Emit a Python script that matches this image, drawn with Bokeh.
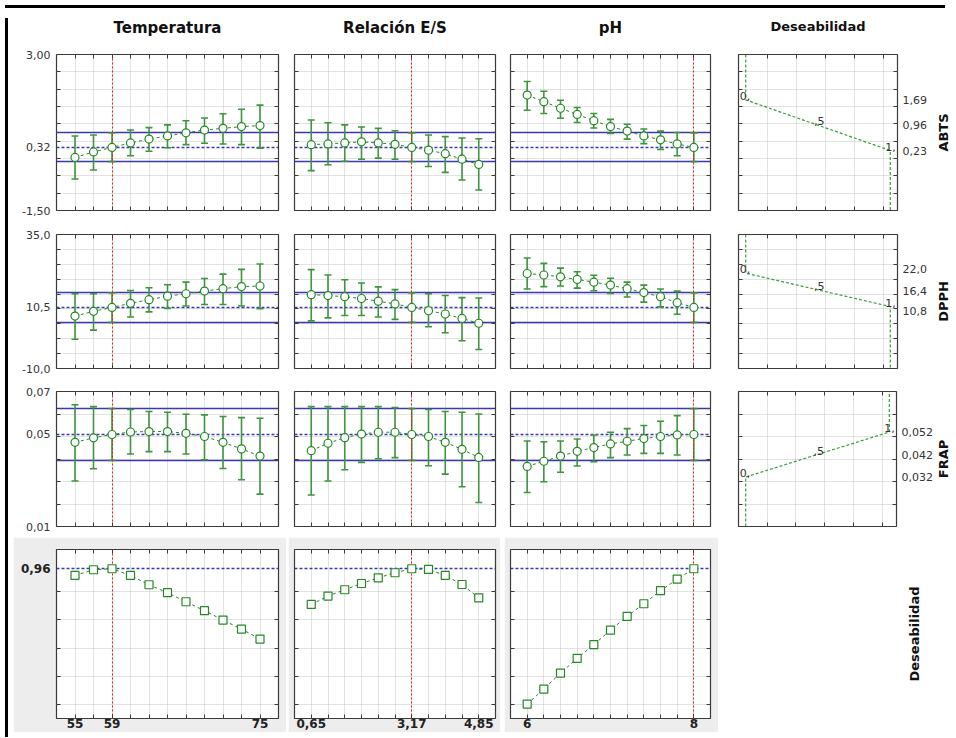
import math
from bokeh.plotting import figure
from bokeh.models import (Range1d, LinearAxis, FixedTicker, Grid, CustomJSTickFormatter,
                          Div, Spacer, ColumnDataSource)
from bokeh.layouts import row, column
from bokeh.core.properties import value
from bokeh.embed import file_html
from bokeh.resources import INLINE

# ---------------- data ----------------
temp = [55, 57, 59, 61, 63, 65, 67, 69, 71, 73, 75]
es = [0.65, 1.07, 1.49, 1.91, 2.33, 2.75, 3.17, 3.59, 4.01, 4.43, 4.85]
ph = [6.0, 6.2, 6.4, 6.6, 6.8, 7.0, 7.2, 7.4, 7.6, 7.8, 8.0]
current = [59, 3.17, 8.0]
factor_names = ["Temperatura", "Relación E/S", "pH"]

abts_temp = [0.03, 0.19, 0.32, 0.45, 0.56, 0.65, 0.74, 0.82, 0.87, 0.92, 0.95]
abts_temp_lo = [-0.59, -0.33, -0.09, 0.08, 0.21, 0.31, 0.40, 0.44, 0.42, 0.40, 0.30]
abts_temp_hi = [0.65, 0.68, 0.74, 0.82, 0.89, 0.97, 1.09, 1.17, 1.29, 1.42, 1.54]
abts_es = [0.40, 0.42, 0.45, 0.48, 0.45, 0.41, 0.32, 0.24, 0.14, -0.02, -0.17]
abts_es_lo = [-0.35, -0.18, -0.08, -0.02, 0.01, -0.02, -0.09, -0.23, -0.40, -0.62, -0.91]
abts_es_hi = [1.11, 1.03, 0.97, 0.91, 0.87, 0.80, 0.74, 0.68, 0.63, 0.59, 0.57]
abts_ph = [1.83, 1.64, 1.45, 1.27, 1.09, 0.92, 0.79, 0.65, 0.54, 0.42, 0.32]
abts_ph_lo = [1.39, 1.30, 1.16, 1.04, 0.88, 0.72, 0.56, 0.43, 0.26, 0.08, -0.09]
abts_ph_hi = [2.22, 1.94, 1.68, 1.47, 1.30, 1.13, 0.99, 0.85, 0.79, 0.75, 0.74]

dpph_temp = [7.6, 9.2, 10.5, 11.9, 13.1, 14.3, 15.1, 16.0, 16.8, 17.5, 17.7]
dpph_temp_lo = [-0.2, 2.9, 5.5, 7.3, 9.0, 10.2, 11.0, 11.5, 11.5, 11.0, 10.1]
dpph_temp_hi = [15.1, 15.1, 15.4, 16.2, 17.1, 18.1, 19.0, 20.2, 21.7, 23.3, 25.1]
dpph_es = [14.8, 14.5, 14.1, 13.5, 12.6, 11.7, 10.5, 9.4, 8.3, 6.8, 5.2]
dpph_es_lo = [6.0, 7.0, 7.8, 7.8, 7.3, 6.5, 5.5, 4.0, 2.0, -0.7, -3.6]
dpph_es_hi = [23.2, 21.4, 19.8, 18.7, 17.4, 16.5, 15.4, 15.1, 14.5, 13.8, 13.7]
dpph_ph = [21.9, 21.4, 20.8, 19.9, 19.0, 18.0, 16.8, 15.5, 14.1, 12.1, 10.5]
dpph_ph_lo = [16.7, 17.5, 17.7, 17.0, 16.1, 15.2, 14.0, 12.3, 10.7, 8.2, 5.5]
dpph_ph_hi = [27.1, 25.3, 23.7, 22.5, 21.3, 20.3, 19.0, 18.0, 16.7, 16.0, 15.4]

frap_temp = [0.0474, 0.0494, 0.0509, 0.0520, 0.0522, 0.0522, 0.0514, 0.0500, 0.0474, 0.0445, 0.0413]
frap_temp_lo = [0.0302, 0.0357, 0.0394, 0.0422, 0.0433, 0.0433, 0.0422, 0.0397, 0.0358, 0.0308, 0.0244]
frap_temp_hi = [0.0641, 0.0633, 0.0624, 0.0620, 0.0611, 0.0608, 0.0599, 0.0596, 0.0589, 0.0584, 0.0581]
frap_es = [0.0437, 0.0470, 0.0495, 0.0511, 0.0519, 0.0519, 0.0509, 0.0500, 0.0474, 0.0443, 0.0407]
frap_es_lo = [0.0240, 0.0302, 0.0352, 0.0385, 0.0401, 0.0406, 0.0394, 0.0370, 0.0333, 0.0277, 0.0207]
frap_es_hi = [0.0633, 0.0633, 0.0633, 0.0633, 0.0633, 0.0629, 0.0624, 0.0620, 0.0611, 0.0608, 0.0600]
frap_ph = [0.0367, 0.0390, 0.0413, 0.0434, 0.0451, 0.0467, 0.0479, 0.0491, 0.0500, 0.0507, 0.0509]
frap_ph_lo = [0.0251, 0.0299, 0.0341, 0.0369, 0.0388, 0.0406, 0.0418, 0.0425, 0.0425, 0.0418, 0.0394]
frap_ph_hi = [0.0480, 0.0477, 0.0480, 0.0489, 0.0507, 0.0519, 0.0535, 0.0549, 0.0568, 0.0593, 0.0624]

des_temp = [0.913, 0.953, 0.960, 0.913, 0.847, 0.791, 0.727, 0.664, 0.598, 0.534, 0.464]
des_es = [0.708, 0.767, 0.812, 0.856, 0.896, 0.932, 0.960, 0.955, 0.913, 0.849, 0.755]
des_ph = [0.005, 0.111, 0.224, 0.327, 0.424, 0.527, 0.624, 0.713, 0.805, 0.887, 0.960]

response_names = ["ABTS", "DPPH", "FRAP"]
overall_name = "Deseabilidad"
pred = [0.32, 10.5, 0.0509]
ci_low = [-0.09, 5.5, 0.0394]
ci_high = [0.74, 15.4, 0.0624]
des_pred = 0.96

des_levels = [0.0, 0.5, 1.0]
des_level_txt = ["0,", ",5", "1,"]
abts_knots = [1.69, 0.96, 0.23]
dpph_knots = [22.0, 16.4, 10.8]
frap_knots = [0.032, 0.042, 0.052]

# tick labels
abts_left_vals = [3.0, 0.32, -1.5]
abts_left_txt = ["3,00", "0,32", "-1,50"]
dpph_left_vals = [35.0, 10.5, -10.0]
dpph_left_txt = ["35,0", "10,5", "-10,0"]
frap_left_vals = [0.07, 0.0509, 0.01]
frap_left_txt = ["0,07", "0,05", "0,01"]
des_left_vals = [0.96]
des_left_txt = ["0,96"]
abts_right_vals = [1.69, 0.96, 0.23]
abts_right_txt = ["1,69", "0,96", "0,23"]
dpph_right_vals = [23.3, 16.1, 9.4]
dpph_right_txt = ["22,0", "16,4", "10,8"]
frap_right_vals = [0.052, 0.042, 0.032]
frap_right_txt = ["0,052", "0,042", "0,032"]
temp_bottom_vals = [55, 59, 75]
temp_bottom_txt = ["55", "59", "75"]
es_bottom_vals = [0.65, 3.17, 4.85]
es_bottom_txt = ["0,65", "3,17", "4,85"]
ph_bottom_vals = [6.0, 8.0]
ph_bottom_txt = ["6", "8"]

# axes ranges and grids
x_ranges = [(53.0, 77.0), (0.23, 5.27), (5.8, 8.2)]
des_x_range = (-0.05, 1.05)
des_x_grid = [0.15, 0.35, 0.55, 0.75, 0.95]
y_ranges = [(-1.5, 3.0), (-10.0, 35.0), (0.01, 0.07)]
des_y_range = (-0.097, 1.096)
y_grids = [[-1.0, -0.5, 0.0, 0.5, 1.0, 1.5, 2.0, 2.5],
           [-5.0, 0.0, 5.0, 10.0, 15.0, 20.0, 25.0, 30.0],
           [0.02, 0.03, 0.04, 0.05, 0.06]]
des_y_grid = [0.0, 0.2, 0.4, 0.6, 0.8]

# ---------------- style ----------------
FONT = "DejaVu Sans"
GREEN = "#238a23"
GREEN_BAR = "#3d963d"
GREEN_LINE = "#2f7f2f"
GREEN_D = "#3a9a3a"
BLUE = "#3a3ab0"
RED = "#f01818"
GRID = "#c4c4c4"
OUTLINE = "#3a3a3a"
TICK = "#3a3a3a"
LBL = "#333333"
GREY_BG = "#ededed"


def make_fmt(vals, txts):
    return CustomJSTickFormatter(args=dict(v=list(vals), t=list(txts)), code="""
for (let i = 0; i < v.length; i++) {
  if (Math.abs(tick - v[i]) <= 1e-9 * Math.max(1, Math.abs(v[i]))) return t[i];
}
return "";
""")


def tick_axis(ticks):
    return LinearAxis(ticker=FixedTicker(ticks=list(ticks)), major_tick_in=4, major_tick_out=0,
                      minor_tick_in=0, minor_tick_out=0, axis_line_color=None,
                      major_tick_line_color=TICK, major_tick_line_width=1,
                      major_label_text_font_size="0px", major_label_text_color=None,
                      major_label_standoff=0)


def label_axis(vals, txts, size="11px", bold=False, standoff=6, color=LBL,
               title=None, title_size="15px", title_standoff=6):
    ax = LinearAxis(ticker=FixedTicker(ticks=list(vals)), formatter=make_fmt(vals, txts),
                    major_tick_in=0, major_tick_out=0, minor_tick_in=0, minor_tick_out=0,
                    axis_line_color=None, major_tick_line_color=None,
                    major_label_standoff=standoff, major_label_text_font=FONT,
                    major_label_text_font_size=size,
                    major_label_text_font_style="bold" if bold else "normal",
                    major_label_text_color=color)
    if title is not None:
        ax.axis_label = title
        ax.axis_label_standoff = title_standoff
        ax.axis_label_text_font = FONT
        ax.axis_label_text_font_size = title_size
        ax.axis_label_text_font_style = "bold"
        ax.axis_label_text_color = "#111111"
    return ax


def make_panel(w, h, ml, mr, mt, mb, xr, yr, xgrid, ygrid, bg="white", frame=True):
    p = figure(width=w, height=h, x_range=Range1d(*xr), y_range=Range1d(*yr),
               x_axis_type=None, y_axis_type=None, toolbar_location=None, output_backend="svg",
               min_border_left=ml, min_border_right=mr, min_border_top=mt, min_border_bottom=mb,
               border_fill_color=bg, background_fill_color=bg if not frame else "white",
               outline_line_color=OUTLINE if frame else None, outline_line_width=1.2)
    if frame:
        p.add_layout(Grid(dimension=0, ticker=FixedTicker(ticks=list(xgrid)),
                          grid_line_color=GRID, grid_line_dash="1 1", grid_line_width=1))
        p.add_layout(Grid(dimension=1, ticker=FixedTicker(ticks=list(ygrid)),
                          grid_line_color=GRID, grid_line_dash="1 1", grid_line_width=1))
        p.add_layout(tick_axis(ygrid), "left")
        p.add_layout(tick_axis(ygrid), "right")
        p.add_layout(tick_axis(xgrid), "above")
        p.add_layout(tick_axis(xgrid), "below")
    return p


def side_label(text, w, h, mt, mb, size="13px"):
    """A narrow figure that only carries a vertical (bottom-to-top) row label."""
    p = make_panel(w, h, 0, 0, mt, mb, (0.0, 1.0), (0.0, 1.0), [], [], frame=False)
    p.text(x=[0.5], y=[0.5], text=[text], angle=math.pi / 2, text_align="center",
           text_baseline="middle", text_font=value(FONT), text_font_size=size,
           text_font_style="bold", text_color="#111111")
    return p


def draw_profile(p, xs, ys, lo, hi, pv, cl, ch, cur):
    p.hspan(y=[cl, ch], line_color=BLUE, line_width=1.5)
    p.hspan(y=[pv], line_color=BLUE, line_width=1.5, line_dash="3 2")
    p.line(xs, ys, line_color=GREEN_LINE, line_width=1, line_dash="3 3")
    p.segment(x0=xs, y0=lo, x1=xs, y1=hi, line_color=GREEN_BAR, line_width=1.6)
    p.scatter(xs, lo, marker="dash", size=7, line_color=GREEN_BAR, line_width=1.6)
    p.scatter(xs, hi, marker="dash", size=7, line_color=GREEN_BAR, line_width=1.6)
    p.vspan(x=[cur], line_color=RED, line_width=1, line_dash="2 2")
    p.scatter(xs, ys, marker="circle", size=8, line_color=GREEN, fill_color="white", line_width=1.2)


def draw_des_profile(p, xs, ys, pv, cur):
    p.hspan(y=[pv], line_color=BLUE, line_width=1.5, line_dash="3 2")
    p.vspan(x=[cur], line_color=RED, line_width=1, line_dash="2 2")
    p.line(xs, ys, line_color=GREEN_LINE, line_width=1, line_dash="3 3")
    p.scatter(xs, ys, marker="square", size=8, line_color=GREEN, fill_color="white", line_width=1.2)


def draw_des_function(p, knots, yr):
    k0, k5, k1 = knots
    far0 = yr[1] if k0 > k1 else yr[0]
    far1 = yr[0] if k0 > k1 else yr[1]
    d = des_levels
    p.line(x=[d[0], d[0], d[1], d[2], d[2]], y=[far0, k0, k5, k1, far1],
           line_color=GREEN_D, line_width=1.2, line_dash="3 2")
    src = ColumnDataSource(dict(x=d, y=list(knots), t=des_level_txt, xo=[-6, -4, -5]))
    p.text(x="x", y="y", text="t", x_offset="xo", source=src, text_font=value(FONT),
           text_font_size="11px", text_color=LBL, text_align="left", text_baseline="bottom")


# ---------------- layout ----------------
cols_spec = [(274, 43, 9), (215, 7, 7), (222, 8, 14), (211, 14, 38)]
label_w = 15
rows_spec = [(209, 41, 12), (158, 12, 12), (157, 11, 11)]

xs_list = [temp, es, ph]
resp = [
    [(abts_temp, abts_temp_lo, abts_temp_hi), (abts_es, abts_es_lo, abts_es_hi), (abts_ph, abts_ph_lo, abts_ph_hi)],
    [(dpph_temp, dpph_temp_lo, dpph_temp_hi), (dpph_es, dpph_es_lo, dpph_es_hi), (dpph_ph, dpph_ph_lo, dpph_ph_hi)],
    [(frap_temp, frap_temp_lo, frap_temp_hi), (frap_es, frap_es_lo, frap_es_hi), (frap_ph, frap_ph_lo, frap_ph_hi)],
]
left_labels = [(abts_left_vals, abts_left_txt), (dpph_left_vals, dpph_left_txt), (frap_left_vals, frap_left_txt)]
right_labels = [(abts_right_vals, abts_right_txt), (dpph_right_vals, dpph_right_txt), (frap_right_vals, frap_right_txt)]
knots_list = [abts_knots, dpph_knots, frap_knots]

grid_rows = []
for r, (h, mt, mb) in enumerate(rows_spec):
    figs = []
    for c, (w, ml, mr) in enumerate(cols_spec):
        if c < 3:
            p = make_panel(w, h, ml, mr, mt, mb, x_ranges[c], y_ranges[r], xs_list[c], y_grids[r])
            ys, lo, hi = resp[r][c]
            draw_profile(p, xs_list[c], ys, lo, hi, pred[r], ci_low[r], ci_high[r], current[c])
            if c == 0:
                p.add_layout(label_axis(*left_labels[r]), "left")
            if r == 0:
                p.add_layout(label_axis([], [], standoff=0, title=factor_names[c],
                                        title_size="15px", title_standoff=18), "above")
        else:
            p = make_panel(w, h, ml, mr, mt, mb, des_x_range, y_ranges[r], des_x_grid, y_grids[r])
            draw_des_function(p, knots_list[r], y_ranges[r])
            p.add_layout(label_axis(*right_labels[r], standoff=5), "right")
            if r == 0:
                p.add_layout(label_axis([], [], standoff=0, title=overall_name,
                                        title_size="13px", title_standoff=21), "above")
        figs.append(p)
    figs.append(side_label(response_names[r], label_w, h, mt, mb))
    grid_rows.append(row(*figs, spacing=0))

# bottom desirability row
h4, mt4, mb4 = 195, 12, 14
row4_spec = [(273, 43, 8), (212, 6, 5), (214, 6, 8)]
des_list = [des_temp, des_es, des_ph]
bottom_labels = [(temp_bottom_vals, temp_bottom_txt), (es_bottom_vals, es_bottom_txt), (ph_bottom_vals, ph_bottom_txt)]
r4 = []
for c, (w, ml, mr) in enumerate(row4_spec):
    p = make_panel(w, h4, ml, mr, mt4, mb4, x_ranges[c], des_y_range, xs_list[c], des_y_grid, bg=GREY_BG)
    draw_des_profile(p, xs_list[c], des_list[c], des_pred, current[c])
    p.add_layout(label_axis(*bottom_labels[c], size="12px", bold=True, standoff=0, color="#222222"), "below")
    if c == 0:
        p.add_layout(label_axis(des_left_vals, des_left_txt, size="12px", bold=True, standoff=6,
                                color="#222222"), "left")
    r4.append(p)
    if c == 0:
        r4.append(Spacer(width=2, height=h4))
    elif c == 1:
        r4.append(Spacer(width=4, height=h4))
r4.append(Spacer(width=188, height=h4))
r4.append(side_label(overall_name, 16, h4, mt4, mb4))
r4.append(Spacer(width=28, height=h4))
grid_rows.append(row(*r4, spacing=0))

body = column(*grid_rows, spacing=0)
top_bar = Div(text="", width=940, height=3, styles={"background-color": "black"})
left_bar = Div(text="", width=3, height=719, styles={"background-color": "black"})
root = column(top_bar, row(left_bar, body, spacing=0), spacing=0)

open("out.html", "w").write(file_html(root, INLINE))
